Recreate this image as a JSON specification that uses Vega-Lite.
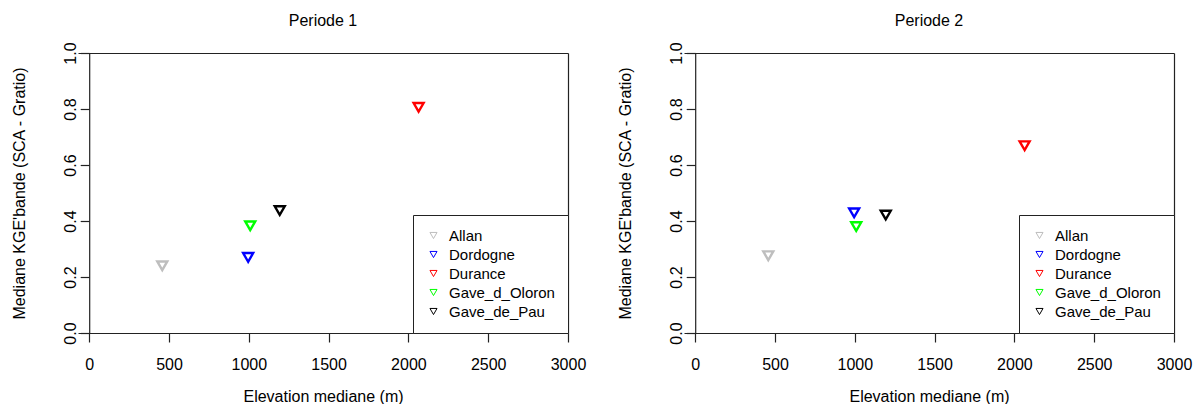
{
  "$schema": "https://vega.github.io/schema/vega-lite/v6.json",
  "background": "white",
  "padding": {"left": 11, "top": 12, "right": 5, "bottom": 0},
  "datasets": {
    "pts": [
      {"periode": 1, "station": "Allan", "elev": 458, "kge": 0.24},
      {"periode": 1, "station": "Dordogne", "elev": 996, "kge": 0.27},
      {"periode": 1, "station": "Durance", "elev": 2064, "kge": 0.806},
      {"periode": 1, "station": "Gave_d_Oloron", "elev": 1009, "kge": 0.383},
      {"periode": 1, "station": "Gave_de_Pau", "elev": 1194, "kge": 0.437},
      {"periode": 2, "station": "Allan", "elev": 458, "kge": 0.276},
      {"periode": 2, "station": "Dordogne", "elev": 996, "kge": 0.429},
      {"periode": 2, "station": "Durance", "elev": 2064, "kge": 0.669},
      {"periode": 2, "station": "Gave_d_Oloron", "elev": 1009, "kge": 0.38},
      {"periode": 2, "station": "Gave_de_Pau", "elev": 1194, "kge": 0.421}
    ]
  },
  "config": {
    "font": "Liberation Sans",
    "view": {"stroke": null},
    "axis": {
      "grid": false,
      "domainColor": "#222222",
      "tickColor": "#222222",
      "labelColor": "black",
      "titleColor": "black",
      "labelFont": "Liberation Sans",
      "titleFont": "Liberation Sans",
      "labelFontSize": 16,
      "titleFontSize": 16,
      "titleFontWeight": "normal",
      "tickSize": 9,
      "domainWidth": 1.2,
      "tickWidth": 1.2
    },
    "title": {"font": "Liberation Sans", "fontSize": 16, "fontWeight": "normal", "color": "black", "offset": 13, "frame": "group"},
    "legend": {
      "labelFont": "Liberation Sans",
      "labelFontSize": 15,
      "labelColor": "black"
    }
  },
  "spacing": 116,
  "bounds": "flush",
  "hconcat": [
    {
      "title": {"text": "Periode 1"},
      "width": 490,
      "height": 280,
      "data": {"name": "pts"},
      "transform": [{"filter": "datum.periode == 1"}],
      "layer": [
        {
          "mark": {"type": "point", "shape": "triangle-down", "filled": false, "strokeWidth": 2.4, "size": 100, "opacity": 1},
          "encoding": {
            "x": {"field": "elev", "type": "quantitative", "scale": {"domain": [-70, 3000], "nice": false, "zero": false},
                  "axis": {"orient": "bottom", "values": [0, 500, 1000, 1500, 2000, 2500, 3000], "format": "d", "title": "Elevation mediane (m)", "labelPadding": 14, "titlePadding": 16, "labelFlush": false, "labelOverlap": false}},
            "y": {"field": "kge", "type": "quantitative", "scale": {"domain": [0, 1], "nice": false, "zero": false},
                  "axis": {"orient": "left", "offset": -11.2, "values": [0, 0.2, 0.4, 0.6, 0.8, 1.0], "format": ".1f", "labelAngle": -90, "labelAlign": "center", "labelBaseline": "bottom", "labelPadding": 2, "title": "Mediane KGE'bande (SCA - Gratio)", "titlePadding": 35, "labelFlush": false, "labelOverlap": false}},
            "color": {"field": "station", "type": "nominal",
                      "scale": {"domain": ["Allan", "Dordogne", "Durance", "Gave_d_Oloron", "Gave_de_Pau"], "range": ["#BEBEBE", "#0000FF", "#FF0000", "#00FF00", "#000000"]},
                      "legend": {"title": null, "orient": "bottom-right", "offset": 0, "strokeColor": "#222222", "fillColor": "white", "padding": 13, "symbolType": "triangle-down", "symbolSize": 50, "symbolStrokeWidth": 1, "symbolFillColor": "transparent", "labelOffset": 8, "rowPadding": 3}}
          }
        },
        {
          "mark": {"type": "point", "opacity": 0},
          "encoding": {
            "x": {"field": "elev", "type": "quantitative", "scale": {"domain": [-70, 3000], "nice": false, "zero": false},
                  "axis": {"orient": "top", "labels": false, "ticks": false, "title": null}},
            "y": {"field": "kge", "type": "quantitative", "scale": {"domain": [0, 1], "nice": false, "zero": false},
                  "axis": {"orient": "right", "labels": false, "ticks": false, "title": null}}
          }
        }
      ],
      "resolve": {"scale": {"x": "independent", "y": "independent"}, "axis": {"x": "independent", "y": "independent"}}
    },
    {
      "title": {"text": "Periode 2"},
      "width": 490,
      "height": 280,
      "data": {"name": "pts"},
      "transform": [{"filter": "datum.periode == 2"}],
      "layer": [
        {
          "mark": {"type": "point", "shape": "triangle-down", "filled": false, "strokeWidth": 2.4, "size": 100, "opacity": 1},
          "encoding": {
            "x": {"field": "elev", "type": "quantitative", "scale": {"domain": [-70, 3000], "nice": false, "zero": false},
                  "axis": {"orient": "bottom", "values": [0, 500, 1000, 1500, 2000, 2500, 3000], "format": "d", "title": "Elevation mediane (m)", "labelPadding": 14, "titlePadding": 16, "labelFlush": false, "labelOverlap": false}},
            "y": {"field": "kge", "type": "quantitative", "scale": {"domain": [0, 1], "nice": false, "zero": false},
                  "axis": {"orient": "left", "offset": -11.2, "values": [0, 0.2, 0.4, 0.6, 0.8, 1.0], "format": ".1f", "labelAngle": -90, "labelAlign": "center", "labelBaseline": "bottom", "labelPadding": 2, "title": "Mediane KGE'bande (SCA - Gratio)", "titlePadding": 35, "labelFlush": false, "labelOverlap": false}},
            "color": {"field": "station", "type": "nominal",
                      "scale": {"domain": ["Allan", "Dordogne", "Durance", "Gave_d_Oloron", "Gave_de_Pau"], "range": ["#BEBEBE", "#0000FF", "#FF0000", "#00FF00", "#000000"]},
                      "legend": {"title": null, "orient": "bottom-right", "offset": 0, "strokeColor": "#222222", "fillColor": "white", "padding": 13, "symbolType": "triangle-down", "symbolSize": 50, "symbolStrokeWidth": 1, "symbolFillColor": "transparent", "labelOffset": 8, "rowPadding": 3}}
          }
        },
        {
          "mark": {"type": "point", "opacity": 0},
          "encoding": {
            "x": {"field": "elev", "type": "quantitative", "scale": {"domain": [-70, 3000], "nice": false, "zero": false},
                  "axis": {"orient": "top", "labels": false, "ticks": false, "title": null}},
            "y": {"field": "kge", "type": "quantitative", "scale": {"domain": [0, 1], "nice": false, "zero": false},
                  "axis": {"orient": "right", "labels": false, "ticks": false, "title": null}}
          }
        }
      ],
      "resolve": {"scale": {"x": "independent", "y": "independent"}, "axis": {"x": "independent", "y": "independent"}}
    }
  ],
  "resolve": {"scale": {"color": "independent"}, "legend": {"color": "independent"}}
}
